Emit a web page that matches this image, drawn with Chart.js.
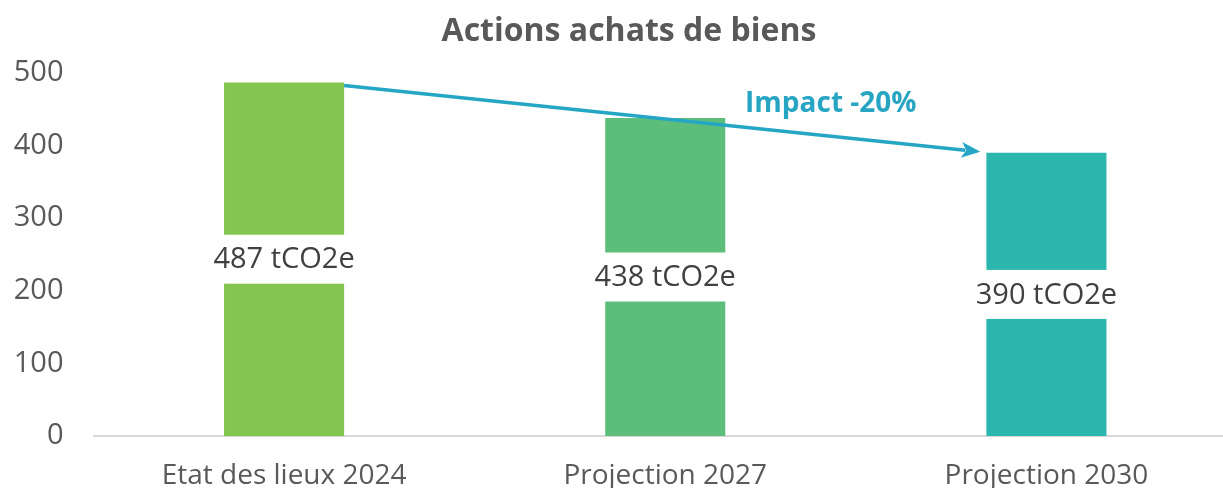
<!DOCTYPE html>
<html><head><meta charset="utf-8">
<script src="https://cdn.jsdelivr.net/npm/chart.js@4/dist/chart.umd.min.js"></script>
<style>
html,body{margin:0;padding:0;background:#fff;overflow:hidden;}
#wrap{position:relative;width:1237px;height:488px;}
</style></head><body>
<div id="wrap"><canvas id="c"></canvas></div>
<script>
const categories = ["Etat des lieux 2024", "Projection 2027", "Projection 2030"];
const values = [487, 438, 390];
const valueLabels = ["487 tCO2e", "438 tCO2e", "390 tCO2e"];
const barColors = ["#83C54E", "#5DBE7B", "#2CB7AE"];
const yTicks = [0, 100, 200, 300, 400, 500];
const chartTitle = "Actions achats de biens";
const impactLabel = "Impact -20%";

const FONT = "'Open Sans', 'Noto Sans', sans-serif";

const overlay = {
  id: 'overlay',
  afterDatasetsDraw(chart) {
    const ctx = chart.ctx;
    const meta = chart.getDatasetMeta(0);
    const y = chart.scales.y;
    ctx.save();
    meta.data.forEach((bar, i) => {
      const p = bar.getProps(['x','y','base','width'], true);
      const mid = (p.y + p.base) / 2;
      ctx.fillStyle = '#ffffff';
      ctx.fillRect(p.x - p.width/2 - 1, mid - 24.5, p.width + 2, 49);
      ctx.fillStyle = '#404040';
      ctx.font = "29px " + FONT;
      ctx.textAlign = 'center';
      ctx.textBaseline = 'middle';
      ctx.fillText(valueLabels[i], p.x, mid + 1);
    });
    const b0 = meta.data[0].getProps(['x','y','width'], true);
    const b2 = meta.data[2].getProps(['x','y','width'], true);
    const x1 = b0.x + b0.width/2, y1 = y.getPixelForValue(values[0]) + 3;
    const x2 = b2.x - b2.width/2 - 6, y2 = y.getPixelForValue(values[2]) - 1;
    const ang = Math.atan2(y2 - y1, x2 - x1);
    const hl = 19, hw = 8;
    const color = '#25A6C4';
    ctx.strokeStyle = color; ctx.fillStyle = color;
    ctx.lineWidth = 3.5;
    ctx.beginPath();
    ctx.moveTo(x1, y1);
    ctx.lineTo(x2 - Math.cos(ang)*hl*0.8, y2 - Math.sin(ang)*hl*0.8);
    ctx.stroke();
    ctx.beginPath();
    ctx.moveTo(x2, y2);
    const bx = x2 - Math.cos(ang)*hl, by = y2 - Math.sin(ang)*hl;
    ctx.lineTo(bx + Math.sin(ang)*hw, by - Math.cos(ang)*hw);
    ctx.lineTo(x2 - Math.cos(ang)*hl*0.75, y2 - Math.sin(ang)*hl*0.75);
    ctx.lineTo(bx - Math.sin(ang)*hw, by + Math.cos(ang)*hw);
    ctx.closePath();
    ctx.fill();
    ctx.font = "bold 28px " + FONT;
    ctx.textAlign = 'center';
    ctx.textBaseline = 'middle';
    ctx.fillStyle = '#27A5C2';
    ctx.fillText(impactLabel, (meta.data[1].x + meta.data[2].x)/2 - 25, y.getPixelForValue(values[0]) + 22);
    ctx.font = "bold 32px " + FONT;
    ctx.fillStyle = '#595959';
    ctx.fillText(chartTitle, 629, 32);
    ctx.restore();
  }
};

new Chart(document.getElementById('c'), {
  type: 'bar',
  data: {
    labels: categories,
    datasets: [{ data: values, backgroundColor: barColors, barPercentage: 0.315, categoryPercentage: 1 }]
  },
  options: {
    responsive: true,
    maintainAspectRatio: false,
    animation: false,
    layout: { padding: { top: 73, right: 0, left: 0, bottom: 0 } },
    plugins: { legend: { display: false }, tooltip: { enabled: false } },
    scales: {
      x: {
        grid: { display: false, drawTicks: false },
        border: { display: true, color: '#D9D9D9', width: 2 },
        ticks: { color: '#595959', font: { family: FONT, size: 28 }, padding: 23 },
        afterFit(s) { s.height = 52; }
      },
      y: {
        min: 0, max: 500,
        grid: { display: false, drawTicks: false },
        border: { display: false },
        afterBuildTicks(s) { s.ticks = yTicks.map(v => ({ value: v })); },
        ticks: { color: '#595959', font: { family: FONT, size: 29 }, padding: 30 },
        afterFit(s) { s.width = 93.5; }
      }
    }
  },
  plugins: [overlay]
});
</script>
</body></html>
